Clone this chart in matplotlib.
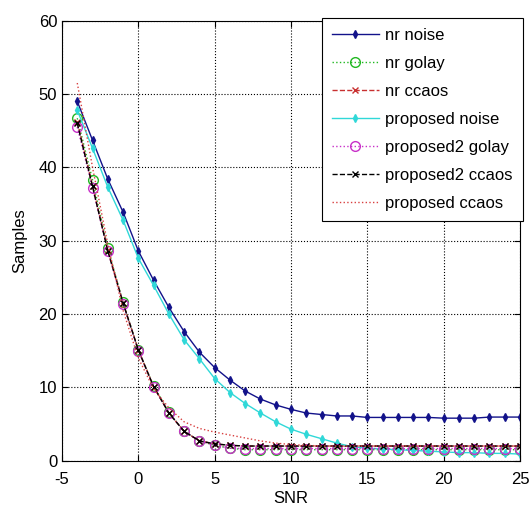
import matplotlib
matplotlib.use("Agg")
import matplotlib.pyplot as plt

# SNR points (one marker per dB)
snr = list(range(-4, 26))

nr_noise = [49.0, 43.7, 38.4, 33.9, 28.6, 24.6, 20.9, 17.6, 14.8, 12.7,
            11.0, 9.5, 8.4, 7.6, 7.0, 6.5, 6.3, 6.1, 6.1, 5.9,
            5.9, 5.9, 5.9, 5.9, 5.8, 5.8, 5.8, 5.95, 5.95, 5.95]
nr_golay = [46.7, 38.3, 29.0, 21.6, 15.1, 10.2, 6.6, 4.0, 2.7, 2.1,
            1.7, 1.5, 1.5, 1.5, 1.5, 1.5, 1.5, 1.5, 1.5, 1.5,
            1.5, 1.5, 1.5, 1.5, 1.5, 1.5, 1.5, 1.5, 1.5, 1.5]
nr_ccaos = [46.2, 37.5, 28.7, 21.5, 15.1, 10.1, 6.5, 4.0, 2.7, 2.3,
            2.1, 2.0, 2.0, 2.0, 2.0, 2.0, 2.0, 2.0, 2.0, 2.0,
            2.0, 2.0, 2.0, 2.0, 2.0, 2.0, 2.0, 2.0, 2.0, 2.0]
proposed_noise = [47.8, 42.6, 37.3, 32.8, 27.6, 23.9, 20.0, 16.5, 13.9, 11.2,
                  9.3, 7.8, 6.5, 5.3, 4.3, 3.6, 3.0, 2.4, 1.9, 1.7,
                  1.6, 1.5, 1.4, 1.3, 1.2, 1.1, 1.1, 1.0, 1.0, 0.9]
proposed2_golay = [45.5, 37.2, 28.6, 21.4, 15.0, 10.1, 6.5, 4.0, 2.7, 2.1,
                   1.7, 1.65, 1.65, 1.65, 1.65, 1.65, 1.65, 1.65, 1.65, 1.65,
                   1.65, 1.65, 1.65, 1.65, 1.65, 1.65, 1.65, 1.65, 1.65, 1.65]
proposed2_ccaos = [46.0, 37.4, 28.6, 21.5, 15.1, 10.1, 6.5, 4.0, 2.7, 2.3,
                   2.1, 2.0, 2.0, 2.0, 2.0, 2.0, 2.0, 2.0, 2.0, 2.0,
                   2.0, 2.0, 2.0, 2.0, 2.0, 2.0, 2.0, 2.0, 2.0, 2.0]
proposed_ccaos = [51.5, 40.0, 29.5, 20.5, 14.0, 9.8, 7.2, 5.3, 4.4, 3.9,
                  3.5, 3.1, 2.7, 2.4, 2.2, 2.1, 2.0, 2.0, 2.0, 2.0,
                  2.0, 2.0, 2.0, 2.0, 2.0, 2.0, 2.0, 2.0, 2.0, 2.0]

plt.rcParams['font.family'] = ['Liberation Sans', 'DejaVu Sans']
plt.rcParams['font.size'] = 12
plt.rcParams['axes.unicode_minus'] = False

fig = plt.figure(figsize=(5.3, 5.14), dpi=100)
ax = fig.add_axes([62 / 530, 53.3 / 514, 458 / 530, 440 / 514])

ax.plot(snr, nr_noise, '-', color='#12128a', marker='d', ms=4, lw=1, label='nr noise')
ax.plot(snr, nr_golay, ':', color='#22b822', marker='o', ms=7, mfc='none', lw=1, label='nr golay')
ax.plot(snr, nr_ccaos, '--', color='#c83030', marker='x', ms=5, lw=1, label='nr ccaos')
ax.plot(snr, proposed_noise, '-', color='#30d8d8', marker='d', ms=4, lw=1, label='proposed noise')
ax.plot(snr, proposed2_golay, ':', color='#c830c8', marker='o', ms=7, mfc='none', lw=1, label='proposed2 golay')
ax.plot(snr, proposed2_ccaos, '--', color='black', marker='x', ms=5, lw=1, label='proposed2 ccaos')
ax.plot(snr, proposed_ccaos, ':', color='#d84040', lw=1, label='proposed ccaos')

ax.set_xlim(-5, 25)
ax.set_ylim(0, 60)
ax.set_xticks(range(-5, 26, 5))
ax.set_yticks(range(0, 61, 10))
ax.tick_params(direction='in', top=True, right=True, length=4)
ax.tick_params(axis='x', pad=8)
ax.grid(True, color='black', linestyle=':', linewidth=0.8)
ax.set_xlabel('SNR', labelpad=3)
ax.set_ylabel('Samples', labelpad=8)

leg = ax.legend(loc='upper right', bbox_to_anchor=(1.006, 1.006), borderaxespad=0,
                fancybox=False, framealpha=1, edgecolor='black', handlelength=2.8,
                handletextpad=0.4, labelspacing=0.78, borderpad=0.6, fontsize=12)
leg.get_frame().set_linewidth(0.8)

fig.savefig('out.png', dpi=100)
